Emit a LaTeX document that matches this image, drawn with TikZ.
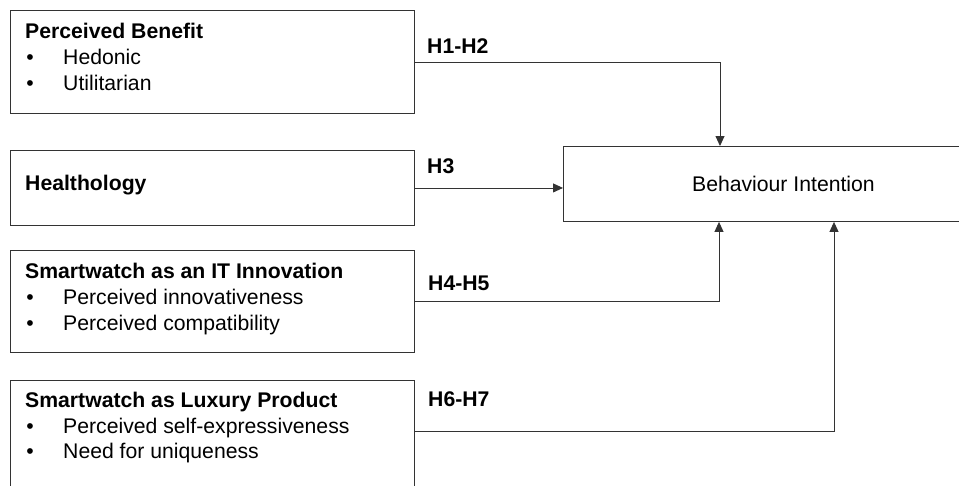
\documentclass[tikz,border=0pt]{standalone}
\usepackage{fontspec}
\setmainfont{Liberation Sans}
\usetikzlibrary{arrows.meta}

\newcommand{\diagfont}{\fontsize{21.2}{25}\selectfont}

\tikzset{
  box/.style={draw=black!80, line width=0.9pt, rectangle, inner sep=0pt, anchor=north west},
  head/.style={font=\diagfont\bfseries, anchor=base west, inner sep=0pt},
  item/.style={font=\diagfont, anchor=base west, inner sep=0pt},
  dot/.style={font=\diagfont, anchor=base, inner sep=0pt},
  hyp/.style={font=\diagfont\bfseries, anchor=base west, inner sep=0pt},
  link/.style={draw=black!80, line width=0.9pt, -{Triangle[length=10pt, width=9pt]}}
}

\begin{document}
\begin{tikzpicture}[x=1pt, y=-1pt, font=\diagfont]

  \path[use as bounding box, clip] (0,0) rectangle (959,485);

  % Boxes
  \node[box, minimum width=404pt, minimum height=103pt] (pb)  at (10,10)  {};
  \node[box, minimum width=404pt, minimum height=75pt]  (hl)  at (10,150) {};
  \node[box, minimum width=404pt, minimum height=102pt] (it)  at (10,250) {};
  \node[box, minimum width=404pt, minimum height=120pt] (lux) at (10,380) {};
  \node[box, minimum width=440pt, minimum height=75pt]  (bi)  at (563,146) {Behaviour Intention};

  % Perceived Benefit
  \node[head] (pbhead) at (25,38) {Perceived Benefit};
  \node[dot]  (pbdota) at (30,64) {•};
  \node[item] (pbone)  at (63,64) {Hedonic};
  \node[dot]  (pbdotb) at (30,90) {•};
  \node[item] (pbtwo)  at (63,90) {Utilitarian};

  % Healthology
  \node[head] (hlhead) at (25,190) {Healthology};

  % IT innovation
  \node[head] (ithead) at (25,278) {Smartwatch as an IT Innovation};
  \node[dot]  (itdota) at (30,304) {•};
  \node[item] (itone)  at (63,304) {Perceived innovativeness};
  \node[dot]  (itdotb) at (30,330) {•};
  \node[item] (ittwo)  at (63,330) {Perceived compatibility};

  % Luxury product
  \node[head] (luxhead) at (25,407) {Smartwatch as Luxury Product};
  \node[dot]  (luxdota) at (30,433) {•};
  \node[item] (luxone)  at (63,433) {Perceived self-expressiveness};
  \node[dot]  (luxdotb) at (30,458) {•};
  \node[item] (luxtwo)  at (63,458) {Need for uniqueness};

  % Hypotheses
  \node[hyp] (h12) at (427,53)  {H1-H2};
  \node[hyp] (h3)  at (427,173) {H3};
  \node[hyp] (h45) at (428,290) {H4-H5};
  \node[hyp] (h67) at (428,406) {H6-H7};

  % Paths to behaviour intention
  \draw[link] (pb.east) -| ([xshift=157pt]bi.north west);
  \draw[link] (hl.east) -- (hl.east -| bi.west);
  \draw[link] (it.east) -| ([xshift=156pt]bi.south west);
  \draw[link] ([yshift=-51pt]lux.north east) -| ([xshift=271pt]bi.south west);

\end{tikzpicture}
\end{document}
